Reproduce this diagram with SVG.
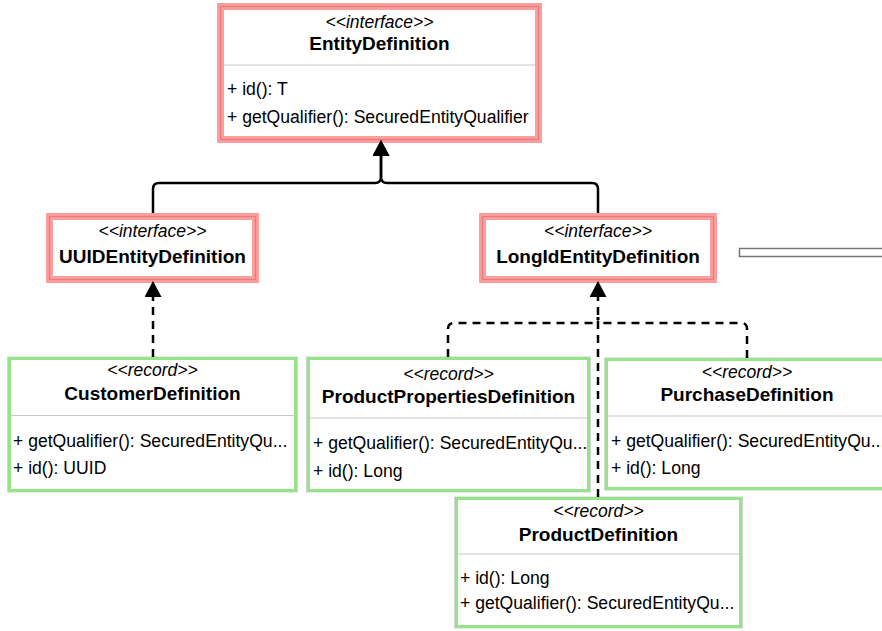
<svg xmlns="http://www.w3.org/2000/svg" width="882" height="631" viewBox="0 0 882 631">
<defs>
<style>
text{font-family:"Liberation Sans",Arial,sans-serif;fill:#000}
.st{font-size:17.5px;font-style:italic;text-anchor:middle}
.nm{font-size:19px;font-weight:bold;text-anchor:middle}
.mb{font-size:17.6px}
.ib{fill:#fff;stroke:#ff9c9c;stroke-width:7}
.il{fill:none;stroke:#e57c7c;stroke-width:1.2}
.rb{fill:#fff;stroke:#95e487;stroke-width:3}
.ro{fill:none;stroke:#cdd5cc;stroke-width:1}
.sep{stroke:#c8c8c8;stroke-width:1.2}
.solid{fill:none;stroke:#000;stroke-width:2.5}
.dash{fill:none;stroke:#000;stroke-width:2.5;stroke-dasharray:8 6}
</style>
<marker id="tri" viewBox="0 0 16 17" refX="0" refY="8.5" markerWidth="16" markerHeight="17" markerUnits="userSpaceOnUse" orient="auto">
<path d="M0,0 L16,8.5 L0,17 Z" fill="#000"/>
</marker>
</defs>
<rect width="882" height="631" fill="#fff"/>

<g id="EntityDefinition">
<rect class="ib" x="220.5" y="6.5" width="318" height="133"/>
<rect class="il" x="220.5" y="6.5" width="318" height="133"/>
<line class="sep" x1="224" y1="65" x2="535" y2="65"/>
<text class="st" x="379.5" y="28">&lt;&lt;interface&gt;&gt;</text>
<text class="nm" x="379.5" y="50">EntityDefinition</text>
<text class="mb" x="227" y="95">+ id(): T</text>
<text class="mb" x="227" y="123">+ getQualifier(): SecuredEntityQualifier</text>
</g>

<g id="UUIDEntityDefinition">
<rect class="ib" x="49.5" y="216.5" width="206" height="63"/>
<rect class="il" x="49.5" y="216.5" width="206" height="63"/>
<text class="st" x="152.5" y="237">&lt;&lt;interface&gt;&gt;</text>
<text class="nm" x="152.5" y="263">UUIDEntityDefinition</text>
</g>

<g id="LongIdEntityDefinition">
<rect class="ib" x="482.5" y="216.5" width="231" height="63"/>
<rect class="il" x="482.5" y="216.5" width="231" height="63"/>
<text class="st" x="598" y="237">&lt;&lt;interface&gt;&gt;</text>
<text class="nm" x="598" y="263">LongIdEntityDefinition</text>
</g>

<g id="Collapsed">
<rect x="739.5" y="248.5" width="160" height="8" fill="#fff" stroke="#777" stroke-width="1.5"/>
</g>

<g id="CustomerDefinition">
<rect class="ro" x="7.5" y="357" width="290" height="135"/>
<rect class="rb" x="9.5" y="358.5" width="286" height="132"/>
<line class="sep" x1="11" y1="415.5" x2="294" y2="415.5"/>
<text class="st" x="152.5" y="376">&lt;&lt;record&gt;&gt;</text>
<text class="nm" x="152.5" y="400">CustomerDefinition</text>
<text class="mb" x="13" y="447">+ getQualifier(): SecuredEntityQu...</text>
<text class="mb" x="13" y="474">+ id(): UUID</text>
</g>

<g id="ProductPropertiesDefinition">
<rect class="ro" x="306.5" y="357" width="284" height="135"/>
<rect class="rb" x="308.5" y="358.5" width="280" height="132"/>
<line class="sep" x1="310" y1="418" x2="587" y2="418"/>
<text class="st" x="448.5" y="380">&lt;&lt;record&gt;&gt;</text>
<text class="nm" x="448.5" y="403">ProductPropertiesDefinition</text>
<text class="mb" x="313" y="449">+ getQualifier(): SecuredEntityQu...</text>
<text class="mb" x="313" y="477">+ id(): Long</text>
</g>

<g id="PurchaseDefinition">
<rect class="ro" x="604.5" y="358" width="286" height="132"/>
<rect class="rb" x="606.5" y="359.5" width="282" height="129"/>
<line class="sep" x1="608" y1="416" x2="887" y2="416"/>
<text class="st" x="747" y="378">&lt;&lt;record&gt;&gt;</text>
<text class="nm" x="747" y="401">PurchaseDefinition</text>
<text class="mb" x="611" y="447">+ getQualifier(): SecuredEntityQu...</text>
<text class="mb" x="611" y="474">+ id(): Long</text>
</g>

<g id="ProductDefinition">
<rect class="ro" x="454.5" y="497" width="288" height="131"/>
<rect class="rb" x="456.5" y="498.5" width="284" height="128"/>
<line class="sep" x1="458" y1="554" x2="739" y2="554"/>
<text class="st" x="598.5" y="517">&lt;&lt;record&gt;&gt;</text>
<text class="nm" x="598.5" y="541">ProductDefinition</text>
<text class="mb" x="460" y="584">+ id(): Long</text>
<text class="mb" x="460" y="609">+ getQualifier(): SecuredEntityQu...</text>
</g>

<g id="connectors">
<path class="solid" d="M153,213 L153,189 Q153,183 159,183 L375,183 Q381,183 381,177 L381,156" marker-end="url(#tri)"/>
<path class="solid" d="M598,213 L598,189 Q598,183 592,183 L387,183 Q381,183 381,177 L381,156" marker-end="url(#tri)"/>
<path class="dash" d="M153,357 L153,297" marker-end="url(#tri)"/>
<path class="dash" d="M448,357 L448,329 Q448,323 454,323 L592,323 Q598,323 598,317"/>
<path class="dash" d="M747,358 L747,329 Q747,323 741,323 L604,323 Q598,323 598,317"/>
<path class="dash" d="M598,497 L598,297" marker-end="url(#tri)"/>
</g>
</svg>
